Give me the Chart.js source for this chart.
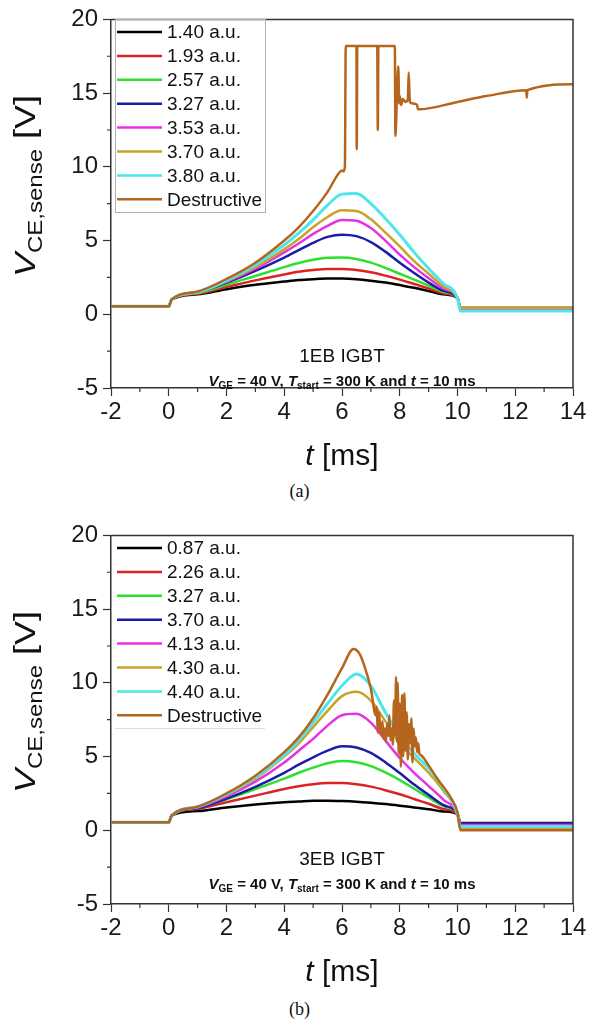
<!DOCTYPE html>
<html>
<head>
<meta charset="utf-8">
<script src="https://cdn.jsdelivr.net/npm/chart.js@4.4.1/dist/chart.umd.min.js"></script>
<style>
  body { margin: 0; background: #fff; width: 599px; height: 1030px; overflow: hidden; position: relative; }
  canvas { position: absolute; left: 0; }
  .cap { position: absolute; left: 0; width: 599px; text-align: center; font-family: "Liberation Serif", serif; font-size: 18px; color: #111; }
</style>
</head>
<body>
<canvas id="chartA" width="599" height="475" style="top:0"></canvas>
<div class="cap" style="top:481px">(a)</div>
<canvas id="chartB" width="599" height="475" style="top:516px"></canvas>
<div class="cap" style="top:999px">(b)</div>
<script>
// time grid shared by the regular curves [ms]
const tGrid = [-2, 0, 0.1, 1, 2, 3, 4, 4.5, 5, 5.5, 6, 6.5, 7, 7.5, 8, 8.5, 9, 9.5, 10, 10.1, 14];

// (a) 1EB IGBT
const labelsA = ['1.40 a.u.', '1.93 a.u.', '2.57 a.u.', '3.27 a.u.', '3.53 a.u.', '3.70 a.u.', '3.80 a.u.', 'Destructive'];
const a140 = [0.55, 0.55, 1.0, 1.35, 1.7, 2.0, 2.22, 2.32, 2.38, 2.42, 2.42, 2.38, 2.28, 2.15, 1.98, 1.8, 1.58, 1.35, 1.1, 0.43, 0.43];
const a193 = [0.55, 0.55, 1.0, 1.4, 1.85, 2.3, 2.7, 2.88, 3.0, 3.07, 3.07, 3.0, 2.85, 2.62, 2.35, 2.05, 1.75, 1.42, 1.1, 0.43, 0.43];
const a257 = [0.55, 0.55, 1.0, 1.45, 2.0, 2.6, 3.2, 3.48, 3.7, 3.83, 3.85, 3.75, 3.5, 3.15, 2.75, 2.35, 1.95, 1.52, 1.1, 0.43, 0.43];
const a327 = [0.55, 0.55, 1.0, 1.5, 2.15, 2.95, 3.85, 4.35, 4.85, 5.25, 5.4, 5.3, 4.9, 4.25, 3.5, 2.8, 2.15, 1.6, 1.1, 0.4, 0.4];
const a353 = [0.55, 0.55, 1.0, 1.5, 2.2, 3.1, 4.2, 4.8, 5.45, 6.0, 6.4, 6.35, 5.85, 5.0, 4.05, 3.2, 2.45, 1.75, 1.1, 0.38, 0.38];
const a370 = [0.55, 0.55, 1.0, 1.5, 2.25, 3.2, 4.4, 5.1, 5.9, 6.6, 7.05, 7.0, 6.45, 5.55, 4.6, 3.6, 2.75, 1.9, 1.1, 0.45, 0.45];
const a380 = [0.55, 0.55, 1.0, 1.5, 2.3, 3.35, 4.7, 5.5, 6.4, 7.4, 8.15, 8.2, 7.5, 6.5, 5.4, 4.2, 3.1, 2.1, 1.1, 0.22, 0.22];
const tDestA = [-2, 0, 0.1, 1, 2, 3, 4, 4.5, 5, 5.5, 5.9, 6.0, 6.05, 6.1, 6.13, 6.5, 6.51, 6.53, 7.22, 7.24, 7.26, 7.83, 7.85, 7.9, 7.95, 7.98, 8.0, 8.05, 8.1, 8.2, 8.28, 8.31, 8.35, 8.45, 8.6, 8.63, 8.66, 10, 11, 12.38, 12.4, 12.42, 14];
const vDestA = [0.55, 0.55, 1.0, 1.55, 2.4, 3.5, 5.0, 5.9, 7.0, 8.3, 9.6, 9.75, 9.7, 10.0, 18.2, 18.2, 11.2, 18.2, 18.2, 12.5, 18.2, 18.2, 12.1, 14.6, 16.8, 14.3, 14.8, 14.2, 14.6, 14.4, 14.6, 16.4, 14.4, 14.3, 14.2, 13.9, 13.9, 14.4, 14.8, 15.2, 14.7, 15.2, 15.6];

// (b) 3EB IGBT
const labelsB = ['0.87 a.u.', '2.26 a.u.', '3.27 a.u.', '3.70 a.u.', '4.13 a.u.', '4.30 a.u.', '4.40 a.u.', 'Destructive'];
const b087 = [0.55, 0.55, 1.0, 1.3, 1.55, 1.75, 1.9, 1.95, 2.0, 2.0, 1.98, 1.94, 1.87, 1.78, 1.67, 1.55, 1.43, 1.28, 1.1, 0.5, 0.5];
const b226 = [0.55, 0.55, 1.0, 1.45, 1.9, 2.35, 2.8, 2.98, 3.12, 3.2, 3.2, 3.12, 2.96, 2.72, 2.44, 2.12, 1.8, 1.45, 1.1, 0.45, 0.45];
const b327 = [0.55, 0.55, 1.0, 1.5, 2.1, 2.8, 3.5, 3.9, 4.25, 4.55, 4.7, 4.62, 4.35, 3.92, 3.4, 2.82, 2.22, 1.65, 1.1, 0.4, 0.4];
const b370 = [0.55, 0.55, 1.0, 1.5, 2.15, 2.95, 3.9, 4.45, 4.95, 5.4, 5.7, 5.62, 5.25, 4.62, 3.88, 3.1, 2.4, 1.72, 1.1, 0.45, 0.45];
const b413 = [0.55, 0.55, 1.0, 1.55, 2.3, 3.3, 4.6, 5.4, 6.2, 7.1, 7.8, 7.9, 7.3, 6.1, 4.9, 3.9, 3.0, 2.1, 1.1, 0.35, 0.35];
const b430 = [0.55, 0.55, 1.0, 1.6, 2.4, 3.5, 5.0, 5.9, 7.0, 8.1, 9.1, 9.4, 8.8, 7.4, 5.9, 4.9, 3.9, 2.7, 1.1, 0.15, 0.15];
const b440 = [0.55, 0.55, 1.0, 1.6, 2.45, 3.6, 5.1, 6.1, 7.3, 8.6, 9.8, 10.6, 9.8, 8.0, 6.4, 5.2, 4.2, 2.9, 1.1, 0.25, 0.25];
const tDestB = [-2, 0, 0.1, 1, 2, 3, 4, 4.5, 5, 5.5, 6, 6.4, 6.6, 6.8, 7.0, 7.17,
  7.2, 7.24, 7.28, 7.32, 7.36, 7.4, 7.44, 7.48, 7.52, 7.56, 7.6, 7.64, 7.68, 7.72, 7.76, 7.8, 7.84, 7.87, 7.9, 7.93, 7.96, 8.0, 8.04,
  8.08, 8.12, 8.16, 8.2, 8.24, 8.28, 8.32, 8.36, 8.4, 8.44, 8.48, 8.52, 8.56, 8.6, 8.64, 8.68, 8.73, 9, 9.3, 9.77, 10, 10.1, 14];
const vDestB = [0.55, 0.55, 1.0, 1.6, 2.5, 3.7, 5.3, 6.3, 7.6, 9.2, 11.0, 12.3, 12.0, 11.0, 9.6, 7.8,
  8.4, 6.6, 8.0, 7.0, 6.5, 7.4, 6.2, 6.9, 6.0, 7.2, 6.4, 7.8, 6.1, 6.9, 5.8, 8.8, 6.5, 10.4, 6.0, 10.0, 5.2, 8.6, 4.3,
  9.2, 5.0, 9.3, 5.4, 8.0, 4.8, 7.2, 5.9, 7.6, 4.6, 6.9, 5.7, 6.3, 5.3, 5.9, 5.2, 5.1, 4.4, 3.5, 2.2, 1.2, 0.0, 0.0];

const colors = ['#000000', '#dc2222', '#2ee02e', '#1c1ca8', '#e632e6', '#c9a227', '#4ee6ec', '#b5651d'];
const FONT = '"Liberation Sans", Arial, sans-serif';

function pts(ts, vs) {
  return ts.map((t, i) => ({ x: t, y: vs[i] }));
}

function drawRun(ctx, parts, cx, baseY) {
  let total = 0;
  parts.forEach(p => { ctx.font = p[0]; total += ctx.measureText(p[1]).width; });
  let x = cx - total / 2;
  ctx.fillStyle = '#111';
  ctx.textBaseline = 'alphabetic';
  ctx.textAlign = 'left';
  parts.forEach(p => { ctx.font = p[0]; ctx.fillText(p[1], x, baseY + p[2]); x += ctx.measureText(p[1]).width; });
}

const decor = {
  id: 'decor',
  afterDraw(chart, args, o) {
    const ctx = chart.ctx;
    const area = chart.chartArea;
    const xs = chart.scales.x, ys = chart.scales.y;
    ctx.save();
    // frame top / right
    ctx.strokeStyle = '#333';
    ctx.lineWidth = 1.5;
    ctx.beginPath();
    ctx.moveTo(area.left, area.top);
    ctx.lineTo(area.right, area.top);
    ctx.lineTo(area.right, area.bottom);
    ctx.stroke();
    // minor ticks
    ctx.lineWidth = 1.2;
    ctx.beginPath();
    for (let v = -1; v < 14; v += 2) {
      const px = xs.getPixelForValue(v);
      ctx.moveTo(px, area.bottom); ctx.lineTo(px, area.bottom + 4);
    }
    for (let v = -2.5; v < 20; v += 5) {
      const py = ys.getPixelForValue(v);
      ctx.moveTo(area.left, py); ctx.lineTo(area.left - 4, py);
    }
    ctx.stroke();

    // legend
    const lg = o.legend;
    if (lg.box === 'full') {
      ctx.strokeStyle = '#b0b0b0'; ctx.lineWidth = 1;
      ctx.strokeRect(lg.x + 0.5, lg.y + 0.5, lg.w, lg.h);
    } else {
      ctx.strokeStyle = '#dddddd'; ctx.lineWidth = 1;
      ctx.beginPath(); ctx.moveTo(lg.x, lg.y + lg.h + 0.5); ctx.lineTo(lg.x + lg.w, lg.y + lg.h + 0.5); ctx.stroke();
    }
    ctx.font = '19px ' + FONT;
    ctx.textBaseline = 'middle';
    ctx.textAlign = 'left';
    chart.data.datasets.forEach((ds, i) => {
      const cy = lg.row0 + i * 23.9;
      ctx.strokeStyle = ds.borderColor; ctx.lineWidth = 2.5;
      ctx.beginPath(); ctx.moveTo(lg.x + 2, cy); ctx.lineTo(lg.x + 47, cy); ctx.stroke();
      ctx.fillStyle = '#111';
      ctx.fillText(ds.label, lg.x + 52, cy + 1);
    });

    // y axis title: V_CE,sense [V]
    ctx.save();
    ctx.translate(35, o.yTitleY);
    ctx.rotate(-Math.PI / 2);
    ctx.scale(1.2, 1);
    const parts = [['italic 30px ' + FONT, 'V', 0], ['20px ' + FONT, 'CE,sense', 7], ['30px ' + FONT, ' [V]', 0]];
    let total = 0;
    parts.forEach(p => { ctx.font = p[0]; total += ctx.measureText(p[1]).width; });
    let x = -total / 2;
    ctx.fillStyle = '#111';
    ctx.textBaseline = 'alphabetic';
    parts.forEach(p => { ctx.font = p[0]; ctx.fillText(p[1], x, p[2]); x += ctx.measureText(p[1]).width; });
    ctx.restore();

    // x axis title: t [ms]
    const cx = (area.left + area.right) / 2;
    drawRun(ctx, [['italic 30px ' + FONT, 't', 0], ['30px ' + FONT, ' [ms]', 0]], cx, o.xTitleY);

    // annotations
    drawRun(ctx, [['19px ' + FONT, o.device, 0]], cx, o.annY);
    drawRun(ctx, [
      ['italic bold 15px ' + FONT, 'V', 0], ['bold 10px ' + FONT, 'GE', 3],
      ['bold 15px ' + FONT, ' = 40 V, ', 0],
      ['italic bold 15px ' + FONT, 'T', 0], ['bold 10px ' + FONT, 'start', 3],
      ['bold 15px ' + FONT, ' = 300 K and ', 0],
      ['italic bold 15px ' + FONT, 't', 0],
      ['bold 15px ' + FONT, ' = 10 ms', 0]
    ], cx, o.annY + 24);
    ctx.restore();
  }
};

function makeChart(id, labels, curves, tDest, vDest, device, legendBox, annY) {
  const datasets = curves.map((vs, i) => ({
    label: labels[i],
    data: pts(tGrid, vs),
    borderColor: colors[i],
    borderWidth: i === 6 ? 3 : 2.5,
    order: 7 - i
  }));
  datasets.push({
    label: labels[7],
    data: pts(tDest, vDest),
    borderColor: colors[7],
    borderWidth: 2.5,
    order: 0
  });
  return new Chart(id, {
    type: 'scatter',
    data: { datasets },
    options: {
      responsive: false,
      animation: false,
      devicePixelRatio: 1,
      showLine: true,
      layout: { padding: { top: 15, right: 26, left: 0, bottom: 0 } },
      elements: {
        point: { radius: 0 },
        line: { cubicInterpolationMode: 'monotone', fill: false }
      },
      scales: {
        x: {
          type: 'linear', min: -2, max: 14,
          afterFit: s => { s.height = 87; },
          ticks: { stepSize: 2, color: '#1a1a1a', font: { family: FONT, size: 24 }, padding: 2 },
          grid: { drawOnChartArea: false, tickLength: 8, tickColor: '#333', tickWidth: 1.2 },
          border: { color: '#333', width: 1.5 }
        },
        y: {
          min: -5, max: 20,
          afterFit: s => { s.width = 111; },
          ticks: { stepSize: 5, color: '#1a1a1a', font: { family: FONT, size: 24 }, padding: 5 },
          grid: { drawOnChartArea: false, tickLength: 8, tickColor: '#333', tickWidth: 1.2 },
          border: { color: '#333', width: 1.5 }
        }
      },
      plugins: {
        legend: { display: false },
        tooltip: { enabled: false },
        decor: {
          legend: { x: 115, y: 19, w: 150, h: 193, row0: 32, box: legendBox },
          yTitleY: 186,
          xTitleY: 465,
          annY,
          device
        }
      }
    },
    plugins: [decor]
  });
}

makeChart('chartA', labelsA, [a140, a193, a257, a327, a353, a370, a380], tDestA, vDestA, '1EB IGBT', 'full', 362);
makeChart('chartB', labelsB, [b087, b226, b327, b370, b413, b430, b440], tDestB, vDestB, '3EB IGBT', 'bottom', 349);
</script>
</body>
</html>
